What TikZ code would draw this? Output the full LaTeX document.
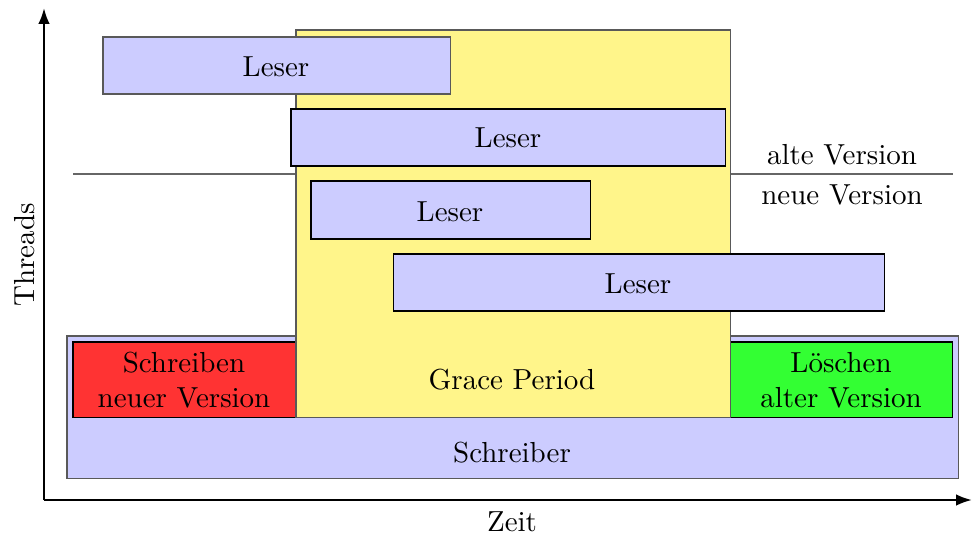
\documentclass[tikz,border=0pt]{standalone}
\usetikzlibrary{arrows.meta}
\definecolor{leserblue}{RGB}{204,204,255}
\definecolor{graceyellow}{RGB}{255,245,138}
\definecolor{writered}{RGB}{255,51,51}
\definecolor{delgreen}{RGB}{51,255,51}
\begin{document}
\begin{tikzpicture}[x=0.345pt,y=-0.345pt,
  box/.style={draw=black, line width=0.35pt},
  softbox/.style={draw=black!65, line width=0.35pt},
  lbl/.style={inner sep=0pt, align=center, font=\normalsize}]
\useasboundingbox (0,0) rectangle (973,536);
% axes
\draw[line width=0.8pt,-{Latex[length=5.5pt,width=4pt]}] (44,500) -- (44,8);
\draw[line width=0.8pt,-{Latex[length=5.5pt,width=4pt]}] (44,500) -- (972,500);
\node[lbl, rotate=90] (threads) at (25,255) {Threads};
\node[lbl] (zeit) at (512,522) {Zeit};
% version boundary
\draw[black!60, line width=0.45pt] (73,174) -- (953,174);
\node[lbl] (alt) at (842,155) {alte Version};
\node[lbl] (neu) at (842,195) {neue Version};
% writer
\filldraw[softbox, fill=leserblue] (67,336) rectangle (958,478);
\node[lbl] (schreiber) at (512,453) {Schreiber};
\filldraw[box, fill=writered] (73,342) rectangle (296,417);
\node[lbl] (schreiben) at (184,380) {Schreiben\\neuer Version};
\filldraw[box, fill=delgreen] (730,342) rectangle (952,417);
\node[lbl] (loeschen) at (841,380) {Löschen\\alter Version};
% grace period
\filldraw[softbox, fill=graceyellow] (296,30) rectangle (730,417);
\node[lbl] (grace) at (512,380) {Grace Period};
% readers
\filldraw[softbox, fill=leserblue] (103,37) rectangle (450,94);
\node[lbl] (l1) at (276,67) {Leser};
\filldraw[box, fill=leserblue] (291,109) rectangle (725,166);
\node[lbl] (l2) at (508,138) {Leser};
\filldraw[box, fill=leserblue] (311,181) rectangle (590,239);
\node[lbl] (l3) at (450,212) {Leser};
\filldraw[box, fill=leserblue] (393,254) rectangle (884,311);
\node[lbl] (l4) at (638,284) {Leser};
\end{tikzpicture}
\end{document}
